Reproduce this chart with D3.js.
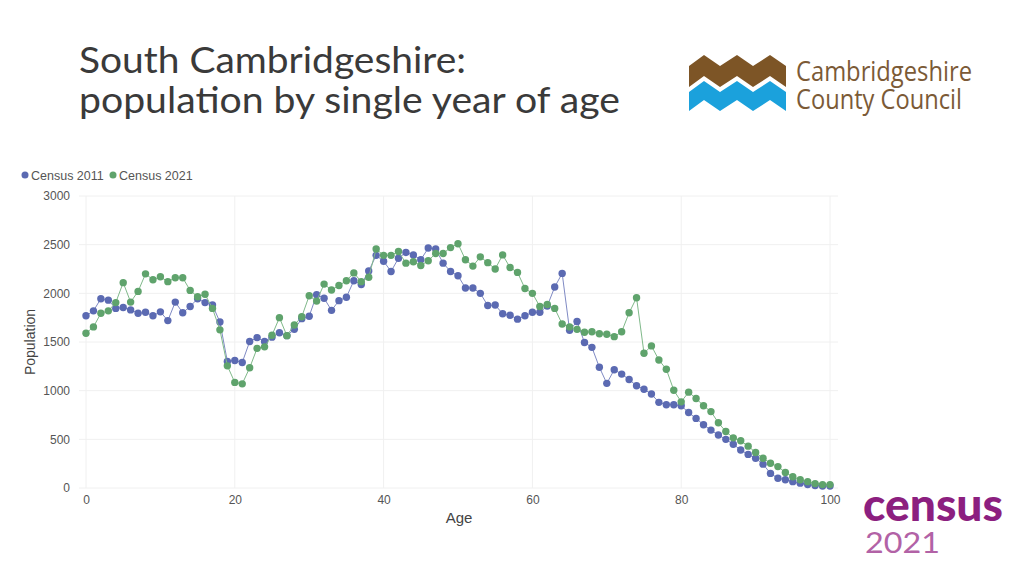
<!DOCTYPE html>
<html><head><meta charset="utf-8">
<script src="https://cdn.jsdelivr.net/npm/d3@7"></script>
<style>html,body{margin:0;padding:0;background:#fff;}svg{display:block;}</style>
</head><body>
<svg id="c" width="1024" height="576"></svg>
<script>
const ages = d3.range(0, 101);
const census2011 = [1770,1820,1945,1930,1845,1855,1830,1795,1805,1770,
1810,1720,1910,1800,1865,1945,1905,1880,1705,1300,
1310,1290,1505,1545,1505,1550,1595,1565,1630,1740,
1765,1985,1950,1825,1925,1960,2130,2090,2230,2390,
2330,2225,2360,2420,2395,2345,2465,2455,2310,2225,
2180,2055,2055,2000,1875,1880,1790,1775,1735,1770,
1805,1805,1870,2065,2205,1620,1710,1495,1445,1240,
1075,1215,1170,1115,1050,1015,965,880,855,855,
845,775,715,650,595,545,500,450,390,345,
305,245,150,100,85,65,50,35,25,20,20];
const census2021 = [1590,1655,1795,1820,1905,2110,1910,2020,2200,2140,
2170,2120,2160,2160,2030,1965,1990,1845,1625,1255,
1085,1070,1235,1435,1450,1570,1750,1565,1675,1760,
1975,1920,2095,2035,2080,2130,2210,2120,2165,2455,
2390,2390,2430,2310,2325,2285,2335,2410,2410,2470,
2510,2345,2280,2375,2315,2250,2395,2265,2215,2050,
2000,1865,1885,1845,1685,1655,1630,1600,1605,1585,
1580,1555,1605,1800,1955,1385,1460,1315,1220,1005,
885,985,920,845,785,670,580,515,485,430,
365,305,255,220,160,115,85,65,45,35,35];
const seriesNames = ["Census 2011", "Census 2021"];
const xTicks = [0, 20, 40, 60, 80, 100];
const yTicks = [0, 500, 1000, 1500, 2000, 2500, 3000];
const titleLines = ["South Cambridgeshire:", "population by single year of age"];

const colors = ["#5b6ab2", "#5fa36c"];
const lineColors = ["#7f8ac4", "#80b98a"];

const svg = d3.select("#c");
const plotL = 79, plotR = 838, plotT = 196, plotB = 488;
const x = d3.scaleLinear().domain([0, 100]).range([86, 830]);
const y = d3.scaleLinear().domain([0, 3000]).range([488, 196]);

// Title
svg.append("g").selectAll("text").data(titleLines).join("text")
  .attr("x", 79).attr("y", (d, i) => 73 + i * 40)
  .attr("font-family", "Lato").attr("font-weight", 400).attr("font-size", 36)
  .attr("fill", "#3a3a3a")
  .attr("textLength", (d, i) => i === 0 ? 387 : 541)
  .attr("lengthAdjust", "spacingAndGlyphs")
  .text(d => d);

// Cambridgeshire logo
const zx = [689, 704, 720, 737, 753, 770, 786];
const amp = 11;
function band(topBase, bottomBase) {
  const top = zx.map((px, i) => [px, topBase - (i % 2 ? amp : 0)]);
  const bot = zx.map((px, i) => [px, bottomBase - (i % 2 ? amp : 0)]).reverse();
  return d3.line()(top.concat(bot)) + "Z";
}
const logo = svg.append("g");
logo.append("path").attr("d", band(66, 87)).attr("fill", "#7d5526");
logo.append("path").attr("d", band(92, 111)).attr("fill", "#1ba1dc");
logo.append("text").attr("x", 796).attr("y", 81).text("Cambridgeshire")
  .attr("font-family", "Liberation Sans Narrow, Open Sans").attr("font-size", 28)
  .attr("fill", "#7b5a36").attr("textLength", 176).attr("lengthAdjust", "spacingAndGlyphs");
logo.append("text").attr("x", 796).attr("y", 109).text("County Council")
  .attr("font-family", "Liberation Sans Narrow, Open Sans").attr("font-size", 28)
  .attr("fill", "#7b5a36").attr("textLength", 166).attr("lengthAdjust", "spacingAndGlyphs");

// Census 2021 logo
svg.append("text").attr("x", 863).attr("y", 521).text("census")
  .attr("font-family", "Lato").attr("font-weight", 900).attr("font-size", 45)
  .attr("fill", "#8c1f80").attr("textLength", 140).attr("lengthAdjust", "spacingAndGlyphs");
svg.append("text").attr("x", 865).attr("y", 553).text("2021")
  .attr("font-family", "Lato").attr("font-weight", 400).attr("font-size", 29)
  .attr("fill", "#b262a6").attr("textLength", 75).attr("lengthAdjust", "spacingAndGlyphs");

// Grid
const grid = svg.append("g");
grid.selectAll("line.h").data(yTicks).join("line").attr("class", "h")
  .attr("x1", plotL).attr("x2", plotR).attr("y1", d => y(d)).attr("y2", d => y(d))
  .attr("stroke", "#f0f0f0").attr("stroke-width", 1);
grid.selectAll("line.v").data(xTicks).join("line").attr("class", "v")
  .attr("y1", plotT).attr("y2", plotB).attr("x1", d => x(d)).attr("x2", d => x(d))
  .attr("stroke", "#f0f0f0").attr("stroke-width", 1);

// Axes
const font = "Liberation Sans, Arial, sans-serif";
const yAxis = svg.append("g").attr("transform", `translate(${plotL - 9},0)`)
  .call(d3.axisLeft(y).tickValues(yTicks).tickSize(0).tickPadding(0).tickFormat(d3.format("d")));
yAxis.select(".domain").remove();
yAxis.selectAll("text").attr("font-family", font).attr("font-size", 12).attr("fill", "#555");
const xAxis = svg.append("g").attr("transform", `translate(0,${plotB + 7})`)
  .call(d3.axisBottom(x).tickValues(xTicks).tickSize(0).tickPadding(0));
xAxis.select(".domain").remove();
xAxis.selectAll("text").attr("font-family", font).attr("font-size", 12).attr("fill", "#555");

svg.append("text").attr("x", 459).attr("y", 523).attr("text-anchor", "middle")
  .attr("font-family", font).attr("font-size", 15).attr("fill", "#444").text("Age");
svg.append("text").attr("transform", "translate(35,342) rotate(-90)").attr("text-anchor", "middle")
  .attr("font-family", font).attr("font-size", 14).attr("fill", "#444").text("Population");

// Series
const series = [census2011, census2021];
const line = d3.line().x((d, i) => x(ages[i])).y(d => y(d));
series.forEach((vals, s) => {
  const g = svg.append("g");
  g.append("path").attr("d", line(vals)).attr("fill", "none")
    .attr("stroke", lineColors[s]).attr("stroke-width", 1);
  g.selectAll("circle").data(vals).join("circle")
    .attr("cx", (d, i) => x(ages[i])).attr("cy", d => y(d)).attr("r", 3.7)
    .attr("fill", colors[s]);
});

// Legend
const leg = svg.append("g");
const legX = [25, 113];
seriesNames.forEach((n, i) => {
  leg.append("circle").attr("cx", legX[i]).attr("cy", 175).attr("r", 3.5).attr("fill", colors[i]);
  leg.append("text").attr("x", legX[i] + 6).attr("y", 179.5).text(n)
    .attr("font-family", font).attr("font-size", 12.5).attr("fill", "#555");
});
</script>
</body></html>
